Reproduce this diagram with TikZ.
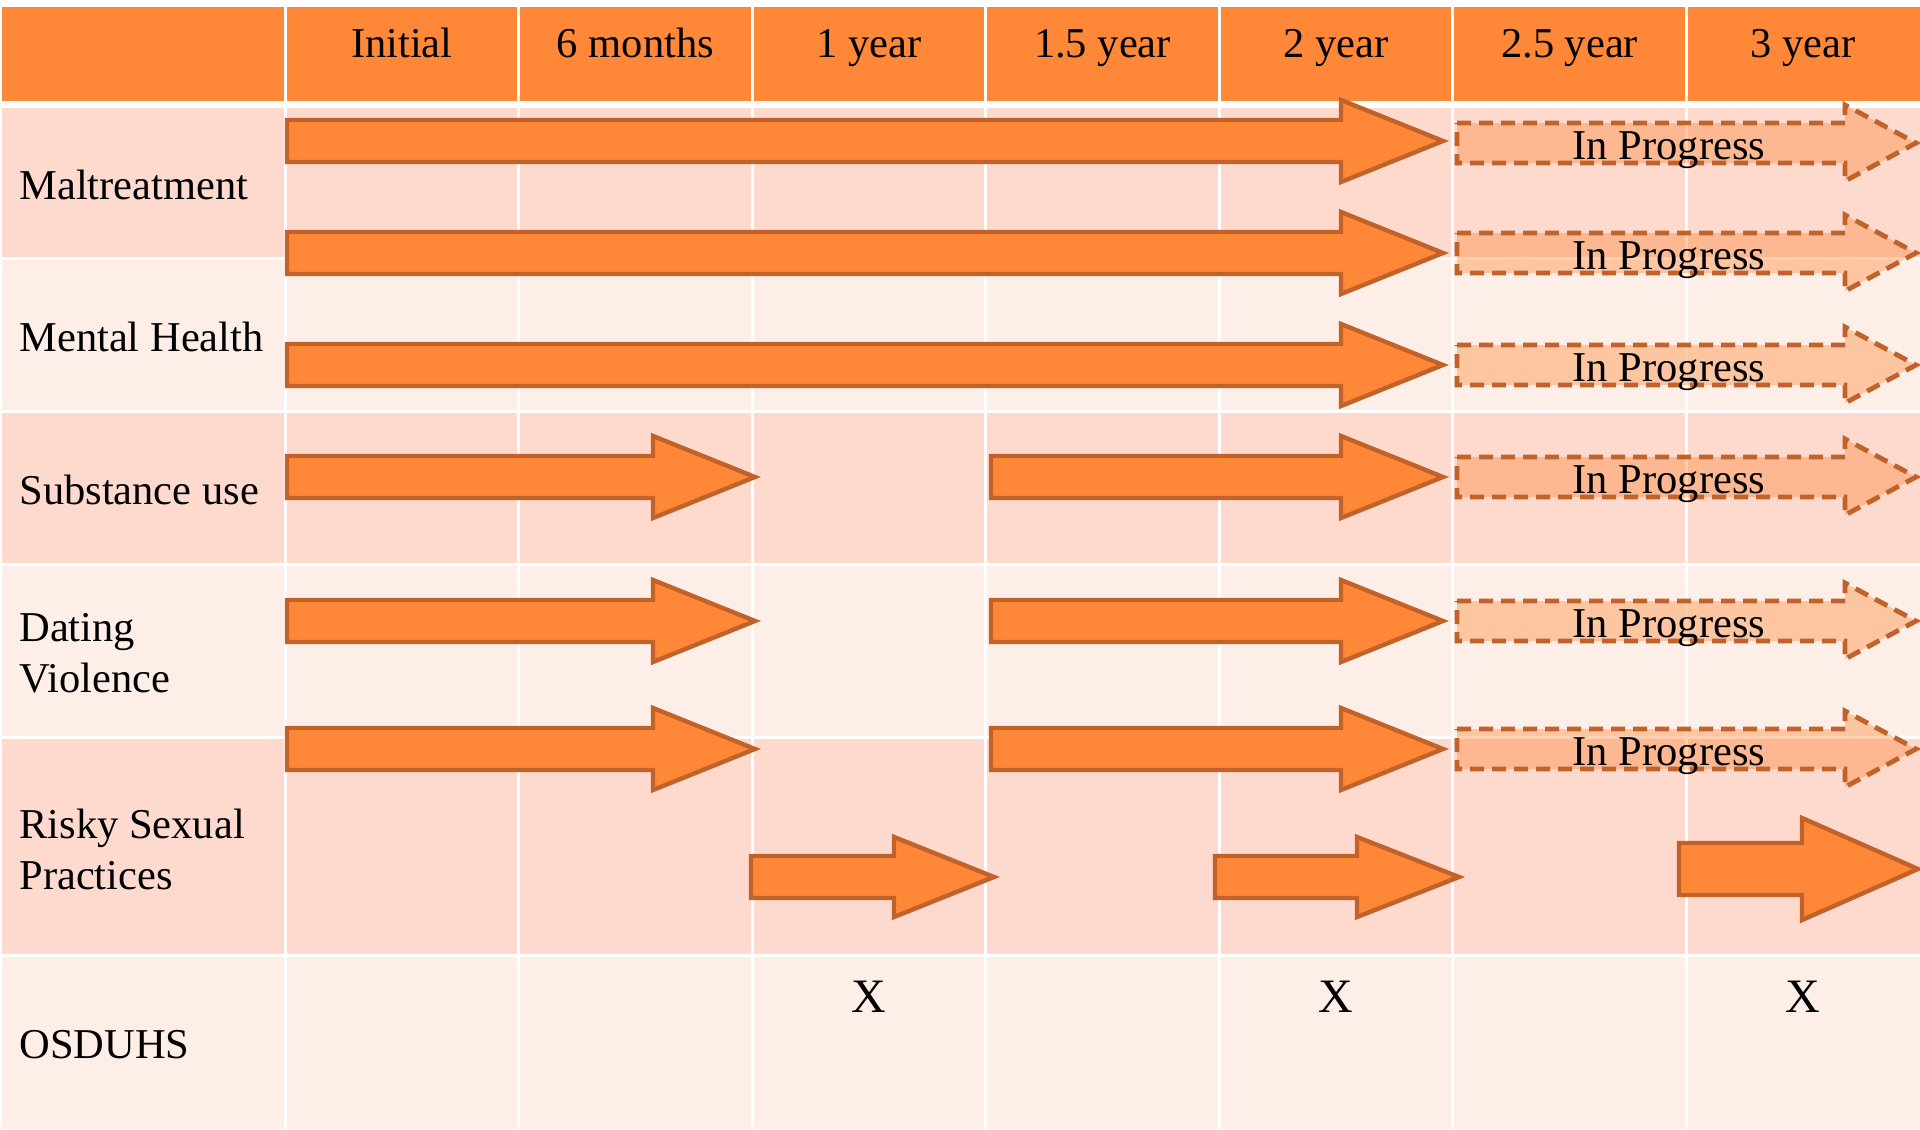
\documentclass[tikz,border=0pt]{standalone}
\usepackage{fontspec}
\setmainfont{Liberation Serif}
\usepackage{xcolor}
\usepackage{tikz}
\usetikzlibrary{positioning}

\definecolor{headorange}{HTML}{FE8838}
\definecolor{rowdark}{HTML}{FDD9CE}
\definecolor{rowlight}{HTML}{FEEEE8}
\definecolor{arrowedge}{HTML}{C0622A}

% block arrow: [style]{tail x}{head base x}{tip x}{centre y}{shaft half}{head half}
\newcommand{\blockarrow}[7][]{%
  \draw[#1] (#2,#5-#6) -- (#3,#5-#6) -- (#3,#5-#7) -- (#4,#5)
    -- (#3,#5+#7) -- (#3,#5+#6) -- (#2,#5+#6) -- cycle;}

\begin{document}
\begin{tikzpicture}[
    x=0.5pt, y=-0.5pt,
    bigfont/.style={font=\fontsize{21.25pt}{25.5pt}\selectfont},
    headtext/.style={bigfont, anchor=base, inner sep=0pt},
    rowlabel/.style={bigfont, anchor=west, align=left, inner sep=0pt},
    marktext/.style={font=\fontsize{24pt}{28pt}\selectfont, inner sep=0pt},
    progtext/.style={bigfont, anchor=base, inner sep=0pt},
    solidarrow/.style={fill=headorange, draw=arrowedge, line width=2.2pt},
    progarrow/.style={fill=headorange, fill opacity=0.4, draw=arrowedge, line width=2.4pt, dash pattern=on 7pt off 4pt}
]
\useasboundingbox (0,0) rectangle (1920,1129);

% Table background
\fill[headorange] (2,7) rectangle (1920,101);
\foreach \top/\bot/\col in {108/257/rowdark, 260/410/rowlight, 413/563/rowdark,
    566/736/rowlight, 739/954/rowdark, 957/1129/rowlight}
  \fill[\col] (2,\top) rectangle (1920,\bot);
\foreach \k in {0,...,6}
  \draw[white, line width=1.5pt] ({285+233.57*\k},7) -- ({285+233.57*\k},1129);

% Header
\foreach \lbl [count=\i] in {Initial, 6 months, 1 year, 1.5 year, 2 year, 2.5 year, 3 year}
  \node[headtext] (head\i) at ({285+233.57*(\i-0.5)},58) {\lbl};

% Row labels
\node[rowlabel] (maltreat) at (19,185) {Maltreatment};
\node[rowlabel] (mental) at (19,337) {Mental Health};
\node[rowlabel] (substance) at (19,490) {Substance use};
\node[rowlabel] (dating) at (19,653) {Dating\\Violence};
\node[rowlabel] (risky) at (19,849) {Risky Sexual\\Practices};
\node[rowlabel] (osduhs) at (19,1045) {OSDUHS};

% Completed waves
\foreach \yc in {141,253,365} {
  \blockarrow[solidarrow]{287}{1341}{1443}{\yc}{21}{41}
}
\foreach \yc in {477,621,749} {
  \blockarrow[solidarrow]{287}{653}{755}{\yc}{21}{41}
  \blockarrow[solidarrow]{991}{1341}{1443}{\yc}{21}{41}
}
\blockarrow[solidarrow]{751}{894}{994}{877}{21}{40}
\blockarrow[solidarrow]{1215}{1357}{1459}{877}{21}{40}
\blockarrow[solidarrow]{1679}{1802}{1918}{869}{26}{51}

% Ongoing waves
\foreach \yc [count=\i] in {143,253,365,477,621,749} {
  \blockarrow[progarrow]{1457}{1845}{1916}{\yc}{20}{38}
  \node[progtext] (prog\i) at (1669,\yc+16) {In Progress};
}

% OSDUHS waves
\node[marktext] (mark1) at (869,997) {X};
\node[marktext] (mark2) at (1336,997) {X};
\node[marktext] (mark3) at (1803,997) {X};

\end{tikzpicture}
\end{document}
